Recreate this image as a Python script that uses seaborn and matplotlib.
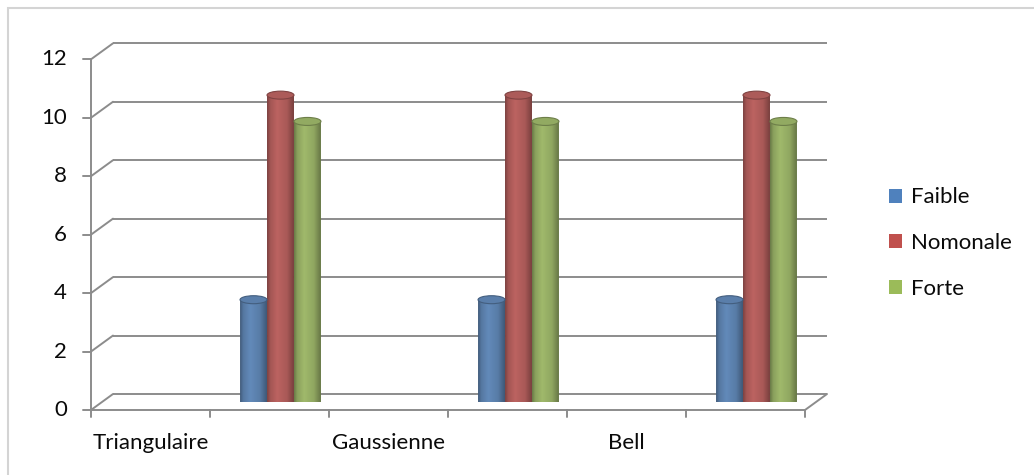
import numpy as np
import pandas as pd
import matplotlib
matplotlib.use("Agg")
import matplotlib.pyplot as plt
from matplotlib.colors import LinearSegmentedColormap, to_rgb
from matplotlib.patches import Ellipse, PathPatch, Rectangle, Patch
from matplotlib.path import Path
import seaborn as sns

# Category slots along the x axis (labels sit on the even slots, bars on the odd ones)
slot_labels = ["Triangulaire", "", "Gaussienne", "", "Bell", ""]
series_names = ["Faible", "Nomonale", "Forte"]
faible = [None, 3.5, None, 3.5, None, 3.5]
nomonale = [None, 10.5, None, 10.5, None, 10.5]
forte = [None, 9.6, None, 9.6, None, 9.6]
y_ticks = [0, 2, 4, 6, 8, 10, 12]
colors = ["#4F81BD", "#C0504D", "#9BBB59"]

rows = []
for name, vals in zip(series_names, [faible, nomonale, forte]):
    for slot, v in enumerate(vals):
        if v is not None:
            rows.append({"slot": slot, "serie": name, "valeur": v})
df = pd.DataFrame(rows)

sns.set_style("white")
plt.rcParams["font.family"] = ["Lato", "DejaVu Sans"]
FS = 16
TXT = "#0a0a0a"

W, H = 1034, 475
fig = plt.figure(figsize=(W / 100, H / 100), dpi=100)
ax_pos = [102 / W, 73 / H, 714 / W, 350.7 / H]
ax = fig.add_axes(ax_pos)

sns.barplot(data=df, x="slot", y="valeur", hue="serie", order=list(range(len(slot_labels))),
            hue_order=series_names, palette=colors, width=0.68, gap=0, errorbar=None,
            legend=False, ax=ax, zorder=3)

n = len(slot_labels)
ymax = y_ticks[-1]
ax.set_xlim(-0.5, n - 0.5)
ax.set_ylim(0, ymax)
ax.set_axis_off()

ppc = ax_pos[2] * W / n       # pixels per category slot
ppu = ax_pos[3] * H / ymax    # pixels per value unit
dx = 11 / ppc                 # half depth of the 3-D box, in data units
dy = 8 / ppu
grid_c = "#8c8c8c"
lw = 1.4
x0, x1 = -0.5, n - 0.5

# back wall gridlines
for v in y_ticks:
    ax.plot([x0 + dx, x1 + dx], [v + dy, v + dy], color=grid_c, lw=lw, zorder=1,
            clip_on=False, solid_capstyle="butt")
    # side diagonals joining the front axis to the back wall
    ax.plot([x0 - dx, x0 + dx], [v - dy, v + dy], color=grid_c, lw=lw, zorder=1, clip_on=False)

# floor: front edge and right diagonal
ax.plot([x0 - dx, x1 - dx], [-dy, -dy], color=grid_c, lw=lw, zorder=4, clip_on=False)
ax.plot([x1 - dx, x1 + dx], [-dy, dy], color=grid_c, lw=lw, zorder=4, clip_on=False)

# front value axis with ticks
ax.plot([x0 - dx, x0 - dx], [-dy, ymax - dy], color=grid_c, lw=lw, zorder=4, clip_on=False)
for v in y_ticks:
    ax.plot([x0 - dx - 8 / ppc, x0 - dx], [v - dy, v - dy], color=grid_c, lw=lw, zorder=4,
            clip_on=False)
    ax.text(x0 - dx - 24 / ppc, v - dy, f"{v}", ha="right", va="center", fontsize=FS,
            color=TXT)

# category ticks and labels on the front edge
for k in range(n + 1):
    xb = -0.5 + k - dx
    ax.plot([xb, xb], [-dy, -dy - 7 / ppu], color=grid_c, lw=lw, zorder=4, clip_on=False)
for k, lab in enumerate(slot_labels):
    if lab:
        ax.text(k - dx, -dy - 33 / ppu, lab, ha="center", va="center", fontsize=FS,
                color=TXT)

# turn the flat bars into shaded cylinders
ell_h = 8 / ppu
for p in list(ax.patches):
    h = p.get_height()
    if not np.isfinite(h) or h == 0:
        continue
    bx, bw = p.get_x(), p.get_width()
    base = np.array(to_rgb(p.get_facecolor()))
    p.set_visible(False)
    cmap = LinearSegmentedColormap.from_list("cyl", [
        (0.0, base * 0.70), (0.12, base * 0.92), (0.38, np.clip(base * 1.06, 0, 1)),
        (0.75, base * 0.95), (1.0, base * 0.68)])
    xc = bx + bw / 2
    t = np.linspace(np.pi, 2 * np.pi, 40)
    verts = [(bx, h), (bx, 0)] + [(xc + bw / 2 * np.cos(a), ell_h / 2 * np.sin(a)) for a in t] \
        + [(bx + bw, h), (bx, h)]
    clip = PathPatch(Path(verts), transform=ax.transData)
    grad = np.linspace(0, 1, 64).reshape(1, -1)
    im = ax.imshow(grad, cmap=cmap, aspect="auto", extent=(bx, bx + bw, -ell_h, h),
                   origin="lower", zorder=3, interpolation="bilinear")
    im.set_clip_path(clip)
    ax.add_patch(Ellipse((xc, h), bw, ell_h, facecolor=base * 0.97,
                         edgecolor=base * 0.72, lw=0.8, zorder=3.5))

ax.set_xlim(-0.5, n - 0.5)
ax.set_ylim(0, ymax)

# legend
handles = [Patch(facecolor=c, edgecolor="none") for c in colors]
fig.legend(handles, series_names, loc="center left", bbox_to_anchor=(869 / W, 1 - 243 / H),
           frameon=False, fontsize=FS, handlelength=0.6, handleheight=0.6,
           handletextpad=0.4, labelspacing=1.15, labelcolor=TXT)

# chart area border
fig.patches.append(Rectangle((8 / W, -0.05), 1.05, 1 - 8 / H + 0.05, transform=fig.transFigure,
                             fill=False, edgecolor="#d4d4d4", lw=1.5))

fig.savefig("out.png", dpi=100)
